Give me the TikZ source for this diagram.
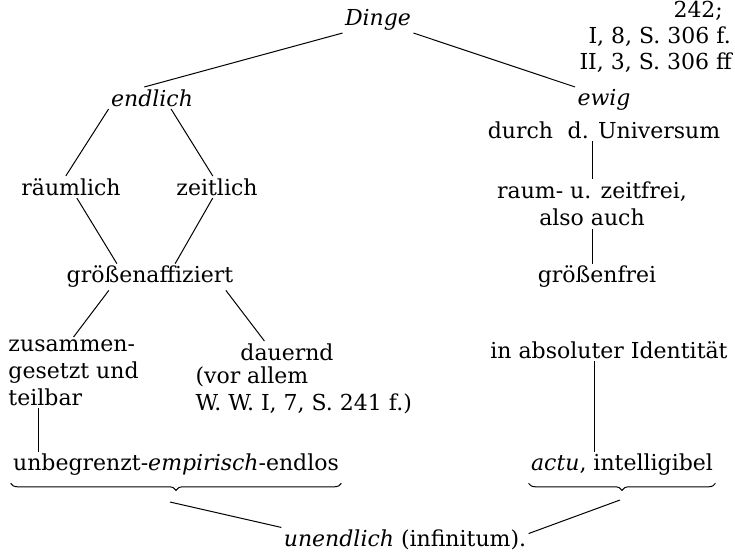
\documentclass[tikz,border=0pt]{standalone}
\usepackage{fontspec}
\setmainfont{DejaVu Serif}
\usepackage{tikz}
\usetikzlibrary{decorations.pathreplacing}

\begin{document}
\begin{tikzpicture}[x = 1pt, y = -1pt, line width = 1pt,
        word/.style = {inner sep = 2pt, font = \fontsize{22}{27}\selectfont},
        klammer/.style = {decorate, decoration = {brace, mirror, amplitude = 7pt, raise = 5pt}}]%{{{
                \useasboundingbox (0, 0) rectangle (735, 552);
                \clip (0, 0) rectangle (735, 552);

                \node (Stelle1) [word, anchor = base west] at (671, 17) {242;};
                \node (Stelle2) [word, anchor = base west] at (586, 43) {I, 8, S. 306 f.};
                \node (Stelle3) [word, anchor = base west] at (577, 69) {II, 3, S. 306 ff};

                \node (Dinge) [word] at (378, 20) {\textit{Dinge}};
                \node (Endlich) [word] at (152, 98) {\textit{endlich}};
                \node (Ewig) [word] at (604, 100) {\textit{ewig}};
                \node (Universum) [word] at (604, 130) {durch\hspace{0.35em} d. Universum};
                \node (Raeumlich) [word] at (71, 187) {räumlich};
                \node (Zeitlich) [word] at (217, 187) {zeitlich};
                \node (Zeitfrei) [word, align = center] at (592, 204) {raum- u. zeitfrei,\\also auch};
                \node (Affiziert) [word] at (150, 277) {größenaffiziert};
                \node (Groessenfrei) [word] at (597, 277) {größenfrei};
                \node (Teilbar) [word, align = left, anchor = north west] at (6, 337) {zusammen-\\gesetzt und\\teilbar};
                \node (Dauernd) [word] at (287, 352) {dauernd};
                \node (Beleg) [word, align = left, anchor = north west] at (193, 364) {(vor allem\\W. W. I, 7, S. 241 f.)};
                \node (Identitaet) [word] at (609, 350) {in absoluter Identität};
                \node (Empirisch) [word] at (176, 465) {unbegrenzt-\textit{empirisch}-endlos};
                \node (Actu) [word] at (622, 465) {\textit{actu}, intelligibel};
                \node (Unendlich) [word] at (405, 540) {\textit{unendlich} (infinitum).};

                \draw (Dinge.south west) -- (Endlich.125);
                \draw (Dinge.south east) -- (Ewig.north west);
                \draw (Endlich.south west) -- (Raeumlich.115);
                \draw (Endlich.330) -- (Zeitlich.111);
                \draw (Raeumlich.298) -- (Affiziert.158);
                \draw (Zeitlich.249) -- (Affiziert.28);
                \draw (Affiziert.198) -- (Teilbar.north);
                \draw (Affiziert.350) -- (Dauernd.154);
                \draw (Teilbar.225) -- (Teilbar.225 |- Empirisch.north);

                \draw (Zeitfrei.north |- Universum.south) -- (Zeitfrei.north);
                \draw (Zeitfrei.south) -- (Zeitfrei.south |- Groessenfrei.north);
                \draw (Identitaet.218) -- (Identitaet.218 |- Actu.north);

                \draw [klammer] (Empirisch.south west) -- (Empirisch.south east);
                \draw [klammer] (Actu.south west) -- (Actu.south east);

                \coordinate (LinksSpitze) at (170, 502);
                \coordinate (RechtsSpitze) at (620, 500);
                \draw (LinksSpitze) -- (Unendlich.north west);
                \draw (RechtsSpitze) -- (Unendlich.3);
\end{tikzpicture}
\end{document}
